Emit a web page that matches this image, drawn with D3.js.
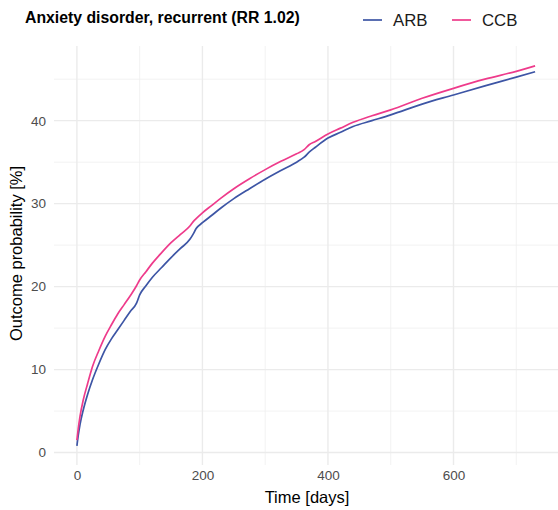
<!DOCTYPE html>
<html>
<head>
<meta charset="utf-8">
<script src="https://cdn.jsdelivr.net/npm/d3@7"></script>
<style>
  html, body { margin: 0; padding: 0; background: #fff; }
  svg { display: block; font-family: "Liberation Sans", Arial, Helvetica, sans-serif; }
</style>
</head>
<body>
<svg id="chart" width="558" height="510"></svg>
<script>
const title = "Anxiety disorder, recurrent (RR 1.02)";
const seriesNames = ["ARB", "CCB"];
const seriesColors = ["#3D55A5", "#EE3B8B"];
const days = [0, 2, 5, 10, 17, 25, 35, 45, 55, 65, 75, 85, 95, 100, 110, 120, 135, 150, 165, 180, 185, 190, 200, 215, 230, 250, 275, 300, 325, 350, 362, 370, 380, 400, 420, 440, 470, 500, 550, 600, 650, 700, 730];
const arb = [0.8, 2.0, 3.4, 5.1, 7.0, 8.8, 10.7, 12.4, 13.7, 14.8, 15.9, 17.0, 18.0, 19.0, 20.1, 21.1, 22.3, 23.5, 24.6, 25.7, 26.3, 27.0, 27.7, 28.6, 29.5, 30.6, 31.8, 32.95, 34.0, 35.0, 35.6, 36.2, 36.8, 37.9, 38.6, 39.3, 40.0, 40.7, 42.0, 43.1, 44.2, 45.25, 45.9];
const ccb = [1.5, 2.8, 4.4, 6.3, 8.3, 10.4, 12.3, 14.0, 15.4, 16.7, 17.8, 18.9, 20.1, 20.8, 21.8, 22.8, 24.1, 25.3, 26.3, 27.3, 27.8, 28.2, 28.9, 29.8, 30.7, 31.8, 33.0, 34.1, 35.1, 36.0, 36.5, 37.1, 37.5, 38.4, 39.1, 39.8, 40.6, 41.3, 42.7, 43.9, 45.0, 45.95, 46.6];
const xTicks = [0, 200, 400, 600];
const xMinor = [100, 300, 500, 700];
const yTicks = [0, 10, 20, 30, 40];
const yMinor = [5, 15, 25, 35, 45];
const xLabel = "Time [days]";
const yLabel = "Outcome probability [%]";

const svg = d3.select("#chart");
const panel = {left: 54, right: 558, top: 46, bottom: 465};

const x = d3.scaleLinear().domain([-36.5, 766.5]).range([panel.left, panel.right]);
const y = d3.scaleLinear().domain([-1.5, 49]).range([panel.bottom, panel.top]);

// grid
const grid = svg.append("g");
grid.selectAll(".ymin").data(yMinor).join("line")
  .attr("x1", panel.left).attr("x2", panel.right)
  .attr("y1", d => y(d)).attr("y2", d => y(d))
  .attr("stroke", "#efefef").attr("stroke-width", 0.8);
grid.selectAll(".xmin").data(xMinor).join("line")
  .attr("y1", panel.top).attr("y2", panel.bottom)
  .attr("x1", d => x(d)).attr("x2", d => x(d))
  .attr("stroke", "#efefef").attr("stroke-width", 0.8);
grid.selectAll(".ymaj").data(yTicks).join("line")
  .attr("x1", panel.left).attr("x2", panel.right)
  .attr("y1", d => y(d)).attr("y2", d => y(d))
  .attr("stroke", "#ebebeb").attr("stroke-width", 1.4);
grid.selectAll(".xmaj").data(xTicks).join("line")
  .attr("y1", panel.top).attr("y2", panel.bottom)
  .attr("x1", d => x(d)).attr("x2", d => x(d))
  .attr("stroke", "#ebebeb").attr("stroke-width", 1.4);

// axes (labels only, ggplot minimal style)
const xAxis = d3.axisBottom(x).tickValues(xTicks).tickSize(0).tickPadding(0).tickFormat(d3.format("d"));
const gx = svg.append("g").attr("transform", `translate(0,${panel.bottom + 5})`).call(xAxis);
gx.select(".domain").remove();
gx.selectAll("text").attr("fill", "#4d4d4d").attr("font-size", "13.5px")
  .attr("font-family", "'Liberation Sans', Arial, sans-serif").attr("dy", "0.71em");

const yAxis = d3.axisLeft(y).tickValues(yTicks).tickSize(0).tickPadding(0).tickFormat(d3.format("d"));
const gy = svg.append("g").attr("transform", `translate(${panel.left - 8},0)`).call(yAxis);
gy.select(".domain").remove();
gy.selectAll("text").attr("fill", "#4d4d4d").attr("font-size", "13.5px")
  .attr("font-family", "'Liberation Sans', Arial, sans-serif");

// lines
const seriesData = [arb, ccb];
const line = d3.line().x(d => x(d[0])).y(d => y(d[1])).curve(d3.curveMonotoneX);
seriesData.forEach((vals, i) => {
  const pts = days.map((d, j) => [d, vals[j]]);
  svg.append("path").datum(pts)
    .attr("fill", "none")
    .attr("stroke", seriesColors[i])
    .attr("stroke-width", 1.7)
    .attr("stroke-linejoin", "round")
    .attr("d", line);
});

// axis titles
svg.append("text").attr("x", (panel.left + panel.right) / 2 + 1).attr("y", 503)
  .attr("text-anchor", "middle").attr("font-size", "16.5px").attr("fill", "#000")
  .text(xLabel);
svg.append("text").attr("transform", `translate(22,${(panel.top + panel.bottom) / 2 - 2}) rotate(-90)`)
  .attr("text-anchor", "middle").attr("font-size", "16.5px").attr("fill", "#000")
  .text(yLabel);

// title
svg.append("text").attr("x", 25).attr("y", 23)
  .attr("font-size", "15.8px").attr("font-weight", "bold").attr("fill", "#000")
  .text(title);

// legend
const legX = [363, 452];
seriesNames.forEach((name, i) => {
  svg.append("line").attr("x1", legX[i]).attr("x2", legX[i] + 19)
    .attr("y1", 20).attr("y2", 20)
    .attr("stroke", seriesColors[i]).attr("stroke-width", 1.7);
  svg.append("text").attr("x", legX[i] + 30).attr("y", 26)
    .attr("font-size", "16.8px").attr("fill", "#1a1a1a").text(name);
});
</script>
</body>
</html>
